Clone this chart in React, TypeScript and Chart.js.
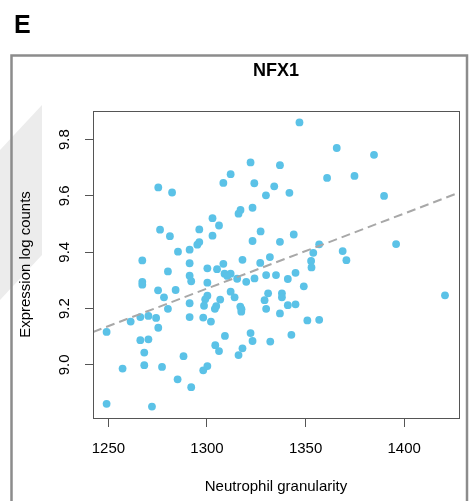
import React, { useEffect, useRef } from "react";
import { Chart, registerables } from "chart.js";

Chart.register(...registerables);

// Neutrophil granularity (x) and NFX1 expression log counts (y)
const granularity = [
  1275.3, 1282.3, 1308.3, 1312.0, 1322.1, 1324.0, 1329.9, 1334.1, 1337.0, 1317.0, 1316.0, 1323.1,
  1346.9, 1365.8, 1384.7, 1341.8, 1360.9, 1374.8, 1389.8,
  1302.8, 1306.1, 1276.2, 1281.2, 1296.1, 1302.8, 1285.3, 1291.2, 1295.1, 1296.1,
  1267.2, 1291.2, 1280.2, 1300.2, 1305.1, 1308.3, 1318.0, 1323.1, 1327.2, 1337.0,
  1327.0, 1331.9, 1308.9, 1312.0, 1310.3, 1315.3, 1319.9, 1324.1, 1330.0, 1335.0,
  1291.2, 1292.0, 1300.2, 1267.2, 1267.2, 1275.2, 1284.1, 1278.2, 1280.2, 1291.2,
  1300.2, 1299.1, 1298.5, 1306.7, 1304.7, 1304.0, 1312.0, 1314.0, 1316.9, 1317.4,
  1331.0, 1329.2, 1330.0, 1338.0,
  1344.0, 1356.9, 1353.9, 1352.8, 1353.0, 1368.8, 1370.7, 1395.9, 1344.9, 1341.0,
  1349.1, 1338.0, 1341.0, 1344.9, 1337.0, 1420.7,
  1249.1, 1261.3, 1266.2, 1270.3, 1274.2, 1275.3, 1291.2, 1298.1, 1302.0, 1266.2,
  1270.3, 1268.2, 1268.2, 1257.2, 1277.2, 1288.1, 1285.1, 1292.0, 1298.1, 1300.2,
  1304.2, 1306.1, 1309.1, 1316.0, 1318.0, 1322.1, 1323.1, 1332.1, 1249.1, 1272.1,
  1350.9, 1356.9, 1342.8, 1317.5,
];
const expression = [
  9.630, 9.612, 9.646, 9.677, 9.719, 9.645, 9.602, 9.634, 9.709, 9.550, 9.537, 9.558,
  9.861, 9.770, 9.746, 9.611, 9.664, 9.671, 9.600,
  9.521, 9.495, 9.480, 9.457, 9.481, 9.459, 9.402, 9.409, 9.427, 9.436,
  9.371, 9.361, 9.332, 9.343, 9.340, 9.359, 9.373, 9.440, 9.474, 9.437,
  9.362, 9.383, 9.324, 9.324, 9.316, 9.306, 9.295, 9.307, 9.319, 9.319,
  9.317, 9.297, 9.292, 9.295, 9.285, 9.265, 9.266, 9.240, 9.199, 9.219,
  9.246, 9.233, 9.210, 9.232, 9.209, 9.199, 9.260, 9.240, 9.207, 9.189,
  9.254, 9.230, 9.199, 9.254,
  9.463, 9.428, 9.398, 9.369, 9.346, 9.404, 9.372, 9.429, 9.327, 9.305,
  9.279, 9.240, 9.212, 9.215, 9.183, 9.247,
  9.117, 9.154, 9.170, 9.174, 9.167, 9.132, 9.170, 9.168, 9.154, 9.088,
  9.091, 9.044, 8.999, 8.987, 8.993, 9.031, 8.949, 8.921, 8.981, 8.996,
  9.070, 9.049, 9.103, 9.035, 9.059, 9.113, 9.085, 9.083, 8.862, 8.852,
  9.158, 9.160, 9.107, 9.198,
];

// Fitted trend line endpoints (dashed)
const trendX = [1242.2, 1427.6];
const trendY = [9.117, 9.611];

const xTicks = [1250, 1300, 1350, 1400];
const yTicks = [9.0, 9.2, 9.4, 9.6, 9.8];
const yTickLabels = ["9.0", "9.2", "9.4", "9.6", "9.8"];

const xRange = [1242.2, 1427.8];
const yRange = [8.8116, 9.9014];

const title = "NFX1";
const panelLetter = "E";
const xTitle = "Neutrophil granularity";
const yTitle = "Expression log counts";

const FONT = "'Liberation Sans', Arial, Helvetica, sans-serif";

const W = 469;
const H = 501;

export default function App() {
  const ref = useRef<HTMLCanvasElement | null>(null);

  useEffect(() => {
    document.body.style.margin = "0";
    const canvas = ref.current;
    if (!canvas) return;

    const decor = {
      id: "decor",
      beforeDraw(chart: any) {
        const ctx = chart.ctx;
        ctx.save();
        // faint grey wedge from the page behind the panel
        ctx.fillStyle = "#ececec";
        ctx.beginPath();
        ctx.moveTo(42, 105);
        ctx.lineTo(42, 255);
        ctx.lineTo(0, 300);
        ctx.lineTo(0, 150);
        ctx.closePath();
        ctx.fill();
        // panel frame
        ctx.strokeStyle = "#8c8c8c";
        ctx.lineWidth = 2.5;
        ctx.strokeRect(11.5, 55.5, 455.5, 470);
        // panel letter
        ctx.fillStyle = "#000";
        ctx.font = `bold 25px ${FONT}`;
        ctx.textBaseline = "alphabetic";
        ctx.textAlign = "left";
        ctx.fillText(panelLetter, 14, 32.5);
        ctx.restore();
      },
      afterDatasetsDraw(chart: any) {
        const { ctx, chartArea } = chart;
        ctx.save();
        ctx.strokeStyle = "#555";
        ctx.lineWidth = 1;
        ctx.strokeRect(
          Math.round(chartArea.left) + 0.5,
          Math.round(chartArea.top) + 0.5,
          Math.round(chartArea.right - chartArea.left),
          Math.round(chartArea.bottom - chartArea.top)
        );
        ctx.restore();
      },
    };

    const points = granularity.map((x, i) => ({ x, y: expression[i] }));
    const trend = trendX.map((x, i) => ({ x, y: trendY[i] }));

    const chart = new Chart(canvas, {
      type: "scatter",
      data: {
        datasets: [
          {
            type: "line",
            data: trend,
            borderColor: "#a8a8a8",
            borderWidth: 2,
            borderDash: [9, 5],
            pointRadius: 0,
            fill: false,
          } as any,
          {
            data: points,
            backgroundColor: "#5bc2e7",
            borderWidth: 0,
            pointRadius: 3.9,
            pointHoverRadius: 3.9,
          },
        ],
      },
      options: {
        responsive: false,
        animation: false,
        devicePixelRatio: 1,
        events: [],
        layout: { padding: { left: 0, right: 10, top: 0, bottom: 0 } },
        plugins: {
          legend: { display: false },
          tooltip: { enabled: false },
          title: {
            display: true,
            text: title,
            fullSize: false,
            color: "#000",
            font: { family: FONT, size: 18, weight: "bold" },
            padding: { top: 60.5, bottom: 28.9 },
          },
        },
        scales: {
          x: {
            type: "linear",
            min: xRange[0],
            max: xRange[1],
            afterBuildTicks: (s: any) => {
              s.ticks = xTicks.map((v) => ({ value: v }));
            },
            afterFit: (s: any) => {
              s.height = 83;
            },
            grid: {
              display: true,
              drawOnChartArea: false,
              drawTicks: true,
              tickLength: 9,
              tickColor: "#555",
              color: "#555",
            },
            border: { display: false },
            ticks: {
              autoSkip: false,
              maxRotation: 0,
              minRotation: 0,
              padding: 13,
              color: "#000",
              font: { family: FONT, size: 15 },
              callback: (v: any) => String(v),
            },
            title: {
              display: true,
              text: xTitle,
              color: "#000",
              font: { family: FONT, size: 15 },
              padding: { top: 0, bottom: 5 },
            },
          },
          y: {
            type: "linear",
            min: yRange[0],
            max: yRange[1],
            afterBuildTicks: (s: any) => {
              s.ticks = yTicks.map((v) => ({ value: v }));
            },
            afterFit: (s: any) => {
              s.width = 93;
            },
            grid: {
              display: true,
              drawOnChartArea: false,
              drawTicks: true,
              tickLength: 8,
              tickColor: "#555",
              color: "#555",
            },
            border: { display: false },
            ticks: {
              autoSkip: false,
              minRotation: 90,
              maxRotation: 90,
              crossAlign: "center",
              padding: 10,
              color: "#000",
              font: { family: FONT, size: 15 },
              callback: (v: any) => {
                const i = yTicks.findIndex((t) => Math.abs(t - v) < 1e-9);
                return i >= 0 ? yTickLabels[i] : "";
              },
            },
            title: {
              display: true,
              text: yTitle,
              color: "#000",
              font: { family: FONT, size: 15 },
              padding: { top: 17, bottom: 0 },
            },
          },
        },
      },
      plugins: [decor],
    });

    return () => chart.destroy();
  }, []);

  return (
    <div style={{ position: "absolute", left: 0, top: 0, width: W, height: H, background: "#fff" }}>
      <canvas ref={ref} width={W} height={H} style={{ display: "block", width: W, height: H }} />
    </div>
  );
}
